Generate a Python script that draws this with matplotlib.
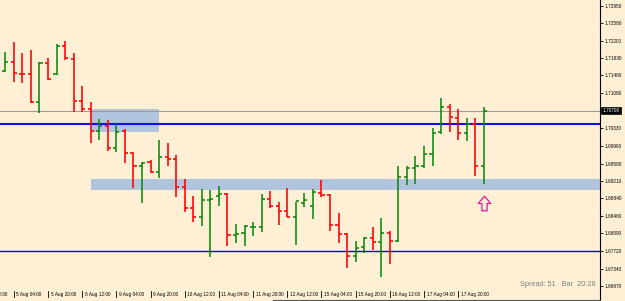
import matplotlib
matplotlib.use('Agg')
import matplotlib.pyplot as plt
from matplotlib.path import Path
from matplotlib.transforms import blended_transform_factory, ScaledTranslation
from matplotlib.lines import Line2D
import matplotlib.font_manager as fm

# ---------------- data (H4 OHLC bars) ----------------
opens = [1.71564, 1.71745, 1.71490, 1.71490, 1.70893, 1.71724, 1.71490, 1.72086, 1.71809, 1.70914,
         1.70743, 1.70274, 1.70381, 1.69912, 1.70274, 1.69805, 1.69528, 1.69613, 1.69400, 1.69720,
         1.69677, 1.69080, 1.68633, 1.68441, 1.68803, 1.68889, 1.68931, 1.68057, 1.68100, 1.68228,
         1.68228, 1.68825, 1.68675, 1.68569, 1.68441, 1.68739, 1.68675, 1.68952, 1.68910, 1.68270,
         1.68078, 1.67609, 1.67801, 1.67993, 1.67908, 1.68100, 1.67929, 1.69294, 1.69486, 1.69528,
         1.69784, 1.70253, 1.70786, 1.70552, 1.70232, 1.70424, 1.69528]
highs = [1.71959, 1.72172, 1.71937, 1.72001, 1.71745, 1.71831, 1.72129, 1.72193, 1.71937, 1.71234,
         1.70893, 1.70530, 1.70509, 1.70424, 1.70317, 1.69827, 1.69613, 1.69656, 1.70082, 1.70019,
         1.69763, 1.69251, 1.68889, 1.69038, 1.69016, 1.69102, 1.68952, 1.68292, 1.68270, 1.68334,
         1.68931, 1.68995, 1.68761, 1.69059, 1.68761, 1.68952, 1.69038, 1.69230, 1.68931, 1.68526,
         1.68100, 1.67929, 1.68014, 1.68228, 1.68420, 1.68142, 1.69528, 1.69528, 1.69741, 1.69955,
         1.70338, 1.70978, 1.70850, 1.70743, 1.70552, 1.70552, 1.70786]
lows = [1.71532, 1.71319, 1.71298, 1.70871, 1.70658, 1.71370, 1.71468, 1.71788, 1.70679, 1.70679,
        1.70019, 1.70082, 1.69848, 1.69827, 1.69592, 1.69059, 1.68739, 1.69379, 1.69272, 1.69528,
        1.68867, 1.68547, 1.68334, 1.68249, 1.67588, 1.68675, 1.67823, 1.67887, 1.67823, 1.68036,
        1.68121, 1.68633, 1.68270, 1.68441, 1.67844, 1.68654, 1.68398, 1.68867, 1.68142, 1.67887,
        1.67354, 1.67481, 1.67673, 1.67737, 1.67162, 1.67439, 1.67908, 1.69123, 1.69144, 1.69486,
        1.69528, 1.70210, 1.70253, 1.70082, 1.70061, 1.69315, 1.69144]
closes = [1.71745, 1.71511, 1.71479, 1.70893, 1.71724, 1.71383, 1.72086, 1.71831, 1.70914, 1.70743,
          1.70274, 1.70381, 1.69912, 1.70253, 1.69805, 1.69528, 1.69592, 1.69400, 1.69720, 1.69677,
          1.69080, 1.68633, 1.68441, 1.68803, 1.68825, 1.68931, 1.68057, 1.68078, 1.68249, 1.68236,
          1.68825, 1.68675, 1.68569, 1.68441, 1.68782, 1.68803, 1.68974, 1.68910, 1.68270, 1.68078,
          1.67609, 1.67780, 1.67993, 1.67908, 1.68100, 1.67929, 1.69294, 1.69486, 1.69528, 1.69784,
          1.70232, 1.70786, 1.70573, 1.70232, 1.70424, 1.69528, 1.70708]

price_ticks = [1.72950, 1.72580, 1.72200, 1.71830, 1.71460, 1.71080, 1.70330, 1.69960,
               1.69580, 1.69210, 1.68840, 1.68460, 1.68090, 1.67720, 1.67340, 1.66970]
price_tick_labels = ['1.72950', '1.72580', '1.72200', '1.71830', '1.71460', '1.71080', '1.70330', '1.69960',
                     '1.69580', '1.69210', '1.68840', '1.68460', '1.68090', '1.67720', '1.67340', '1.66970']

time_label_bars = [-3, 1, 5, 9, 13, 17, 21, 25, 29, 33, 37, 41, 45, 49, 53]
time_labels = ['4 Aug 12:00', '5 Aug 04:00', '5 Aug 20:00', '8 Aug 12:00', '9 Aug 04:00', '9 Aug 20:00',
               '10 Aug 12:00', '11 Aug 04:00', '11 Aug 20:00', '12 Aug 12:00', '15 Aug 04:00',
               '15 Aug 20:00', '16 Aug 12:00', '17 Aug 04:00', '17 Aug 20:00']

# zones (bar index start/end, price top/bottom); end None = to right edge
zone_start = [10.0, 10.0]
zone_end = [18.0, None]
zone_top = [1.70743, 1.69251]
zone_bottom = [1.70253, 1.69016]

level_blue_upper = 1.70417
level_blue_lower = 1.67726
current_price = 1.70708
current_label = '1.70708'

arrow_bar = 56
arrow_price = 1.68739

spread_text = 'Spread: 51   Bar  20:28'

# ---------------- styling ----------------
BG = '#ffefd5'
BULL = '#0c870c'
BEAR = '#ff0000'

def pick_font():
    for fam in ['Liberation Sans Narrow', 'Liberation Sans', 'DejaVu Sans']:
        try:
            fm.findfont(fm.FontProperties(family=fam), fallback_to_default=False)
            return fam
        except Exception:
            pass
    return 'DejaVu Sans'

FONT = pick_font()
small_fs = 4.4 if FONT == 'Liberation Sans Narrow' else 3.4

fig = plt.figure(figsize=(6.25, 3.01), dpi=100, facecolor=BG)
ax = fig.add_axes([0, 12 / 301, 600 / 625, 289 / 301], facecolor=BG)

xmin, xmax = -5.3 / 8.545, (600 - 5.3) / 8.545
ax.set_xlim(xmin, xmax)
ax.set_ylim(1.6690578, 1.7306726)

# zones
for xs, xe, top, bot in zip(zone_start, zone_end, zone_top, zone_bottom):
    xe = xmax if xe is None else xe
    ax.fill_between([xs, xe], [bot, bot], [top, top], color='#b0c4de', lw=0, zorder=1)

# levels
ax.axhline(current_price, color='#9a9a96', lw=0.8, zorder=2)
ax.axhline(level_blue_upper, color='#1010ee', lw=1.5, zorder=2)
ax.axhline(level_blue_lower, color='#0000ff', lw=1.0, zorder=2)

# OHLC bars
idx = list(range(len(opens)))
tk = 0.36
for i in idx:
    c = BULL if closes[i] >= opens[i] else BEAR
    ax.vlines(i, lows[i], highs[i], color=c, lw=1.15, zorder=3)
    ax.hlines(opens[i], i - tk, i, color=c, lw=1.15, zorder=3)
    ax.hlines(closes[i], i, i + tk, color=c, lw=1.15, zorder=3)

# arrow marker
arrow_path = Path([(0, 7), (6, 0), (2.5, 0), (2.5, -7), (-2.5, -7), (-2.5, 0), (-6, 0), (0, 7)],
                  [Path.MOVETO] + [Path.LINETO] * 6 + [Path.CLOSEPOLY])
ax.plot([arrow_bar], [arrow_price], marker=arrow_path, markersize=10.5, markerfacecolor='none',
        markeredgecolor='#e0189a', markeredgewidth=0.9, zorder=4, linestyle='none')

# spines
for s in ['top', 'left', 'bottom']:
    ax.spines[s].set_visible(False)
ax.spines['right'].set_color('#000000')
ax.spines['right'].set_linewidth(0.8)

# y axis on right
ax.yaxis.tick_right()
ax.set_yticks(price_ticks)
ax.set_yticklabels(price_tick_labels, fontsize=small_fs, family=FONT, color='#000000')
ax.tick_params(axis='y', direction='out', length=2.2, width=0.6, pad=1.2)

# x axis: hidden ticks, custom labels
ax.set_xticks([])
xtrans = blended_transform_factory(ax.transData, ax.transAxes)
off = ScaledTranslation(2.5 / 100, 0, fig.dpi_scale_trans)
for b, lab in zip(time_label_bars, time_labels):
    ax.text(b, -0.012, lab, transform=xtrans + off, ha='left', va='top', fontsize=small_fs,
            family=FONT, color='#000000', clip_on=False)
    ax.plot([b, b], [-0.008, -0.028], transform=xtrans, color='#000000', lw=0.6, clip_on=False)

# current price box
ytrans = blended_transform_factory(ax.transAxes, ax.transData)
ax.text(1.004, current_price, current_label, transform=ytrans, ha='left', va='center',
        fontsize=small_fs, family=FONT, color='white', clip_on=False,
        bbox=dict(boxstyle='square,pad=0.25', fc='#000000', ec='#000000', lw=0.5))

# spread / bar timer text
ax.text(0.993, 0.004, spread_text, transform=ax.transAxes, ha='right', va='bottom',
        fontsize=5.3, family='Liberation Sans', color='#7f7f7f')

# right spine extension and bottom frame fragment
fig.add_artist(Line2D([600 / 625, 600 / 625], [0, 12 / 301], color='#000000', lw=0.8))
fig.add_artist(Line2D([273 / 625, 600 / 625], [1.5 / 301, 1.5 / 301], color='#555555', lw=0.8))

fig.savefig('out.png', dpi=100, facecolor=BG)
